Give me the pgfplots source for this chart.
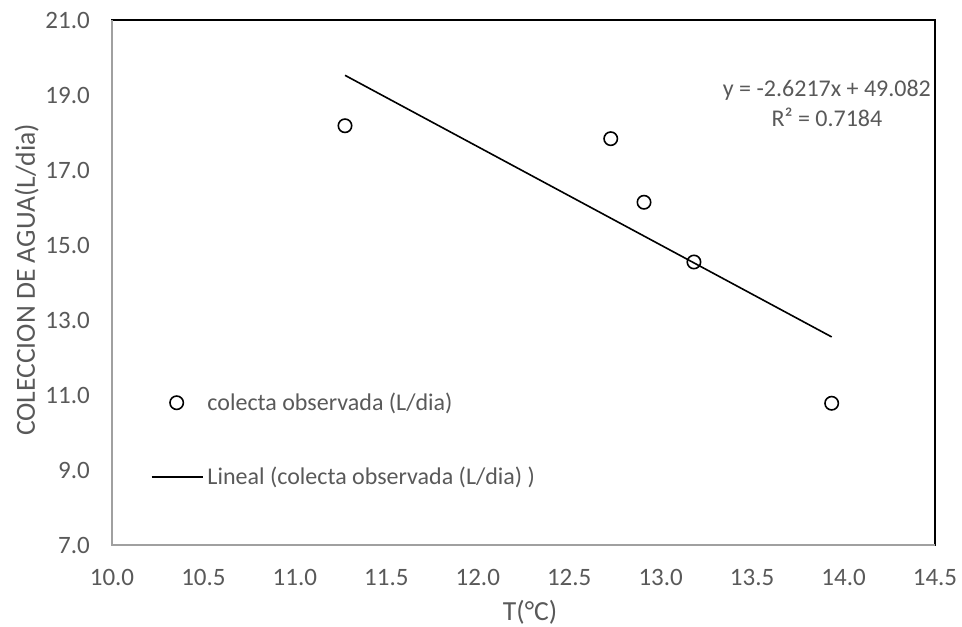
\documentclass[border=0pt]{standalone}
\usepackage{fontspec}
\setmainfont{Carlito}
\usepackage{pgfplots}
\pgfplotsset{compat=1.18}
\definecolor{txtgray}{HTML}{595959}
\definecolor{axgray}{HTML}{A0A0A0}
\pgfplotsset{
  scatterleg/.style={legend image code/.code={\path (0pt,0pt) (55pt,0pt); \draw[##1] plot coordinates {(25pt,0pt)};}},
  lineleg/.style={legend image code/.code={\path (0pt,0pt) (55pt,0pt); \draw[##1] (0pt,0pt) -- (51pt,0pt);}},
}
\begin{document}
\begin{tikzpicture}
\begin{axis}[
  scale only axis,
  width=823pt, height=525pt,
  xmin=10, xmax=14.5, ymin=7, ymax=21,
  xtick={10,10.5,11,11.5,12,12.5,13,13.5,14,14.5},
  ytick={7,9,11,13,15,17,19,21},
  major tick length=0pt,
  tick label style={font=\fontsize{25}{30}\selectfont, text=txtgray},
  xticklabel style={/pgf/number format/.cd, fixed, fixed zerofill, precision=1, assume math mode=true, /tikz/.cd, anchor=base, inner sep=0pt, yshift=-40pt},
  yticklabel style={/pgf/number format/.cd, fixed, fixed zerofill, precision=1, assume math mode=true, /tikz/.cd, anchor=east, inner sep=0pt, xshift=-22pt},
  xlabel={T(°C)},
  ylabel={COLECCION DE AGUA(L/dia)},
  xlabel style={font=\fontsize{27.6}{32}\selectfont, text=txtgray, at={(rel axis cs:0.508,-0.1429)}, anchor=base, inner sep=0pt},
  ylabel style={font=\fontsize{27.6}{32}\selectfont, text=txtgray, at={(rel axis cs:-0.0936,0.505)}, anchor=base, inner sep=0pt},
  axis line style={black, line width=1.8pt},
  legend style={at={(rel axis cs:0.047,0.2895)}, anchor=north west, draw=none, fill=none,
    font=\fontsize{24}{28}\selectfont, text=txtgray, inner sep=0pt, row sep=55pt,
    nodes={inner sep=0pt}},
  legend cell align=left,
  after end axis/.code={
    \draw[axgray, line width=2pt] (rel axis cs:0,1) -- (rel axis cs:0,0) -- (rel axis cs:1,0);
    \coordinate (bl) at (rel axis cs:-0.1361,-0.1543);
    \coordinate (tr) at (rel axis cs:1.0328,1.0381);
  },
]
\addplot[only marks, mark=o, mark size=6.7pt, mark options={black, line width=1.6pt, fill=none}, scatterleg]
  coordinates {(11.274,18.18) (12.727,17.835) (12.909,16.14) (13.182,14.547) (13.935,10.78)};
\addlegendentry{colecta observada (L/dia)}
\addplot[black, line width=1.6pt, no marks, lineleg]
  coordinates {(11.274,19.525) (13.935,12.549)};
\addlegendentry{Lineal (colecta observada (L/dia) )}
\node[anchor=base, font=\fontsize{24}{28}\selectfont, text=txtgray, inner sep=0pt] at (axis cs:13.909,18.947) {y = -2.6217x + 49.082};
\node[anchor=base, font=\fontsize{24}{28}\selectfont, text=txtgray, inner sep=0pt] at (axis cs:13.909,18.147) {R² = 0.7184};
\end{axis}
\pgfresetboundingbox
\path[use as bounding box] (bl) rectangle (tr);
\end{tikzpicture}
\end{document}
